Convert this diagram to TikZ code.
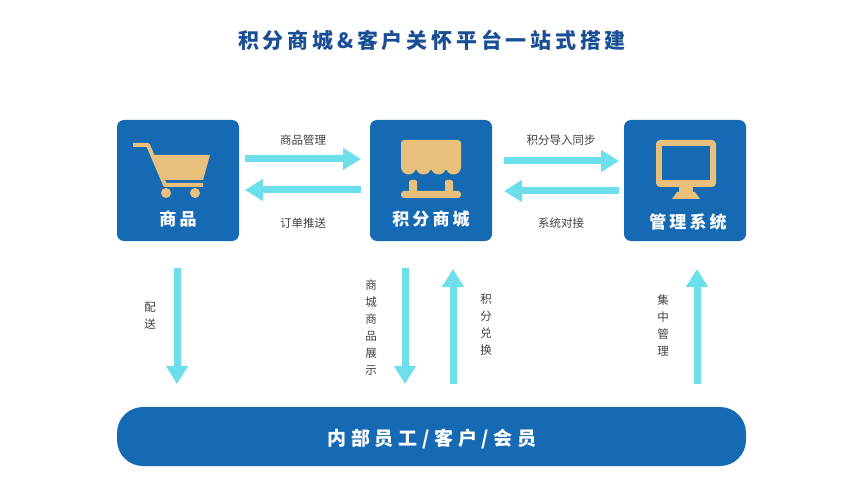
\documentclass[tikz,border=0pt]{standalone}
\usepackage{fontspec}
\usetikzlibrary{arrows.meta}
\newfontfamily\cjk{Noto Sans CJK SC}
\newfontfamily\cjksp[LetterSpace=18]{Noto Sans CJK SC}
\newfontfamily\cjkspw[LetterSpace=25]{Noto Sans CJK SC}
\definecolor{bblue}{HTML}{156AB3}
\definecolor{cyanar}{HTML}{6CDFEB}
\definecolor{gold}{HTML}{E8BF7B}
\definecolor{ttl}{HTML}{1A4F96}
\begin{document}
\begin{tikzpicture}[x=1pt,y=-1pt,
  box/.style={fill=bblue,rounded corners=7pt},
  boxlbl/.style={text=white,font=\cjksp\bfseries\fontsize{17}{17}\selectfont},
  arr/.style={draw=cyanar,line width=7pt,-{Triangle[width=21pt,length=18pt]}},
  lbl/.style={text=black!75,font=\cjk\fontsize{11.5}{13}\selectfont},
  vlbl/.style={text=black!75,font=\cjk\fontsize{11.5}{17}\selectfont,align=center}]
\useasboundingbox (0,0) rectangle (852,500);
\node[text=ttl,font=\cjksp\bfseries\fontsize{21}{21}\selectfont] (title) at (432,40) {积分商城\&客户关怀平台一站式搭建};
% boxes
\fill[box] (117,120) rectangle (239,241);
\fill[box] (370,120) rectangle (492,241);
\fill[box] (624,120) rectangle (746,241);
\node[boxlbl] (b1) at (178,219) {商品};
\node[boxlbl] (b2) at (431,219) {积分商城};
\node[boxlbl] (b3) at (688,222) {管理系统};
% cart
\draw[gold,line width=4pt,line join=round] (133,145) -- (148,145) -- (165,185) -- (203,185);
\fill[gold] (153,155) -- (210,155) -- (203,180) -- (161,180) -- cycle;
\fill[gold] (166,193) circle (5); \fill[gold] (195,193) circle (5);
% shop
\fill[gold,rounded corners=3pt] (401,170) -- (401,140) -- (461,140) -- (461,170) -- cycle;
\foreach \i in {0,1,2,3}{\fill[gold] (408.5+15*\i,167) circle (7.5);}
\fill[gold,rounded corners=2pt] (409,180) rectangle (417,196);
\fill[gold,rounded corners=2pt] (445,180) rectangle (453,196);
\fill[gold,rounded corners=3pt] (401,191) rectangle (461,198);
% monitor
\fill[gold,rounded corners=4pt] (656,140) rectangle (716,187);
\fill[bblue] (662,146) rectangle (710,180);
\fill[gold] (679,187) rectangle (693,193);
\fill[gold] (677,192) -- (695,192) -- (700,199) -- (672,199) -- cycle;
% horizontal arrows
\coordinate (h1s) at (245,159); \coordinate (h1e) at (361,159);
\coordinate (h2s) at (361,190); \coordinate (h2e) at (245,190);
\coordinate (h3s) at (504,161); \coordinate (h3e) at (619,161);
\coordinate (h4s) at (619,191); \coordinate (h4e) at (504,191);
\draw[arr] (h1s) -- (h1e); \draw[arr] (h2s) -- (h2e);
\draw[arr] (h3s) -- (h3e); \draw[arr] (h4s) -- (h4e);
\node[lbl] (l1) at (303,140) {商品管理};
\node[lbl] (l2) at (303,223) {订单推送};
\node[lbl] (l3) at (561,140) {积分导入同步};
\node[lbl] (l4) at (561,223) {系统对接};
% vertical arrows
\coordinate (v1s) at (177,268); \coordinate (v1e) at (177,384);
\coordinate (v2s) at (405,268); \coordinate (v2e) at (405,384);
\coordinate (v3s) at (453,384); \coordinate (v3e) at (453,269);
\coordinate (v4s) at (697,384); \coordinate (v4e) at (697,269);
\draw[arr] (v1s) -- (v1e); \draw[arr] (v2s) -- (v2e);
\draw[arr] (v3s) -- (v3e); \draw[arr] (v4s) -- (v4e);
\node[vlbl] (m1) at (150,316) {配\\送};
\node[vlbl] (m2) at (371,328) {商\\城\\商\\品\\展\\示};
\node[vlbl] (m3) at (486,325) {积\\分\\兑\\换};
\node[vlbl] (m4) at (663,325) {集\\中\\管\\理};
% bottom bar
\fill[box,rounded corners=26pt] (117,407) rectangle (746,466);
\node[text=white,font=\cjkspw\bfseries\fontsize{19}{19}\selectfont] (bottom) at (432,439) {内部员工/客户/会员};
\end{tikzpicture}
\end{document}
